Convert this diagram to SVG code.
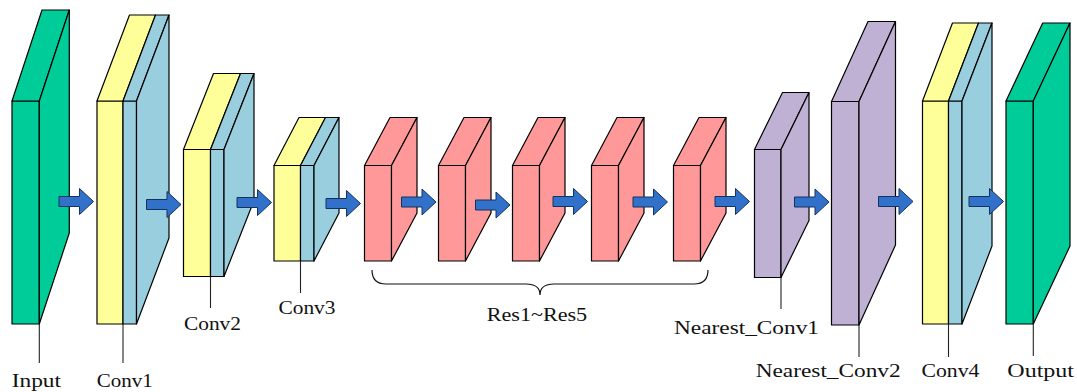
<svg xmlns="http://www.w3.org/2000/svg" xmlns:xlink="http://www.w3.org/1999/xlink" width="1077" height="392" viewBox="0 0 1077 392">
<style>
.blk{stroke:#000;stroke-width:1.2;stroke-linejoin:round}
.g{fill:#00CC99}
.y{fill:#FFFF99}
.b{fill:#99CEDE}
.p{fill:#FF9999}
.v{fill:#BFB1D3}
.ld{stroke:#222;stroke-width:1.1;fill:none}
.arr{fill:#3271CA;stroke:#14325E;stroke-width:1;stroke-linejoin:miter}
.lbl{font-family:"Liberation Serif","Times New Roman",serif;font-size:18px;fill:#111}
.brace{fill:none;stroke:#111;stroke-width:1.2}
</style>
<defs>
<path id="arr" class="arr" d="M0,-5H20.5V-13L34.5,0L20.5,13V5H0Z"/>
<g id="resBlock" class="blk p">
<rect x="0" y="0" width="27" height="95.5"/>
<polygon points="0,0 27,0 52.5,-48 25.5,-48"/>
<polygon points="27,0 52.5,-48 52.5,47.5 27,95.5"/>
</g>
</defs>

<g id="input">
<g class="blk g">
<rect x="12" y="101" width="27.3" height="223"/>
<polygon points="12,101 39.3,101 69.3,10 42,10"/>
<polygon points="39.3,101 69.3,10 69.3,233 39.3,324"/>
</g>
<line class="ld" x1="39.3" y1="324" x2="39.3" y2="363"/>
<text class="lbl" x="11.7" y="386.7" textLength="49.3" lengthAdjust="spacingAndGlyphs">Input</text>
</g>

<g id="conv1">
<g class="blk">
<rect class="y" x="97" y="101" width="26" height="223"/>
<rect class="b" x="123" y="101" width="13.5" height="223"/>
<polygon class="y" points="97,101 123,101 155.5,15 129.5,15"/>
<polygon class="b" points="123,101 136.5,101 169,15 155.5,15"/>
<polygon class="b" points="136.5,101 169,15 169,238 136.5,324"/>
</g>
<line class="ld" x1="123" y1="324" x2="123" y2="363"/>
<text class="lbl" x="96.7" y="386.7" textLength="56" lengthAdjust="spacingAndGlyphs">Conv1</text>
</g>

<g id="conv2">
<g class="blk">
<rect class="y" x="183.5" y="149.5" width="27" height="127"/>
<rect class="b" x="210.5" y="149.5" width="13.5" height="127"/>
<polygon class="y" points="183.5,149.5 210.5,149.5 240.5,73.5 213.5,73.5"/>
<polygon class="b" points="210.5,149.5 224,149.5 254,73.5 240.5,73.5"/>
<polygon class="b" points="224,149.5 254,73.5 254,200.5 224,276.5"/>
</g>
<line class="ld" x1="210.5" y1="276.5" x2="210.5" y2="308"/>
<text class="lbl" x="184" y="330" textLength="57" lengthAdjust="spacingAndGlyphs">Conv2</text>
</g>

<g id="conv3">
<g class="blk">
<rect class="y" x="274" y="165.5" width="26.5" height="95.5"/>
<rect class="b" x="300.5" y="165.5" width="13.5" height="95.5"/>
<polygon class="y" points="274,165.5 300.5,165.5 325.5,117.5 299,117.5"/>
<polygon class="b" points="300.5,165.5 314,165.5 339,117.5 325.5,117.5"/>
<polygon class="b" points="314,165.5 339,117.5 339,213 314,261"/>
</g>
<line class="ld" x1="300.5" y1="261" x2="300.5" y2="293"/>
<text class="lbl" x="278.5" y="314" textLength="57" lengthAdjust="spacingAndGlyphs">Conv3</text>
</g>

<g id="res1"><use xlink:href="#resBlock" href="#resBlock" x="364.5" y="165.5"/></g>
<g id="res2"><use xlink:href="#resBlock" href="#resBlock" x="438.5" y="165.5"/></g>
<g id="res3"><use xlink:href="#resBlock" href="#resBlock" x="512.5" y="165.5"/></g>
<g id="res4"><use xlink:href="#resBlock" href="#resBlock" x="591.5" y="165.5"/></g>
<g id="res5"><use xlink:href="#resBlock" href="#resBlock" x="673.5" y="165.5"/></g>

<g id="res-brace">
<path class="brace" d="M372,270 Q372,284 386,284 L526,284 Q540,284 540,295 Q540,284 554,284 L694,284 Q708,284 708,270"/>
<text class="lbl" x="486.7" y="321" textLength="100.5" lengthAdjust="spacingAndGlyphs">Res1~Res5</text>
</g>

<g id="nearest_conv1">
<g class="blk v">
<rect x="754.5" y="149.5" width="26.5" height="128"/>
<polygon points="754.5,149.5 781,149.5 809,92.5 782.5,92.5"/>
<polygon points="781,149.5 809,92.5 809,220.5 781,277.5"/>
</g>
<line class="ld" x1="781" y1="277.5" x2="781" y2="309"/>
<text class="lbl" x="674" y="334" textLength="145" lengthAdjust="spacingAndGlyphs">Nearest_Conv1</text>
</g>

<g id="nearest_conv2">
<g class="blk v">
<rect x="831.5" y="101.5" width="27.5" height="223.5"/>
<polygon points="831.5,101.5 859,101.5 895.5,21.5 868,21.5"/>
<polygon points="859,101.5 895.5,21.5 895.5,245 859,325"/>
</g>
<line class="ld" x1="859" y1="325" x2="859" y2="357"/>
<text class="lbl" x="755.7" y="377" textLength="145" lengthAdjust="spacingAndGlyphs">Nearest_Conv2</text>
</g>

<g id="conv4">
<g class="blk">
<rect class="y" x="922.5" y="101" width="26" height="223"/>
<rect class="b" x="948.5" y="101" width="13.5" height="223"/>
<polygon class="y" points="922.5,101 948.5,101 978.5,23 952.5,23"/>
<polygon class="b" points="948.5,101 962,101 992,23 978.5,23"/>
<polygon class="b" points="962,101 992,23 992,246 962,324"/>
</g>
<line class="ld" x1="948.5" y1="324" x2="948.5" y2="357"/>
<text class="lbl" x="921.5" y="377" textLength="58" lengthAdjust="spacingAndGlyphs">Conv4</text>
</g>

<g id="output">
<g class="blk g">
<rect x="1006" y="101" width="27.3" height="223"/>
<polygon points="1006,101 1033.3,101 1070,23 1042.7,23"/>
<polygon points="1033.3,101 1070,23 1070,246 1033.3,324"/>
</g>
<line class="ld" x1="1033.3" y1="324" x2="1033.3" y2="356"/>
<text class="lbl" x="1007.3" y="377" textLength="66.7" lengthAdjust="spacingAndGlyphs">Output</text>
</g>

<g id="connectors">
<use xlink:href="#arr" href="#arr" x="59" y="201.5"/>
<use xlink:href="#arr" href="#arr" x="146.5" y="204.5"/>
<use xlink:href="#arr" href="#arr" x="237" y="202.5"/>
<use xlink:href="#arr" href="#arr" x="326" y="203.5"/>
<use xlink:href="#arr" href="#arr" x="401.5" y="202"/>
<use xlink:href="#arr" href="#arr" x="475.5" y="205"/>
<use xlink:href="#arr" href="#arr" x="553" y="201.5"/>
<use xlink:href="#arr" href="#arr" x="633" y="202"/>
<use xlink:href="#arr" href="#arr" x="715" y="201.5"/>
<use xlink:href="#arr" href="#arr" x="794.5" y="202"/>
<use xlink:href="#arr" href="#arr" x="878.5" y="201.5"/>
<use xlink:href="#arr" href="#arr" x="969" y="201.5"/>
</g>
</svg>
